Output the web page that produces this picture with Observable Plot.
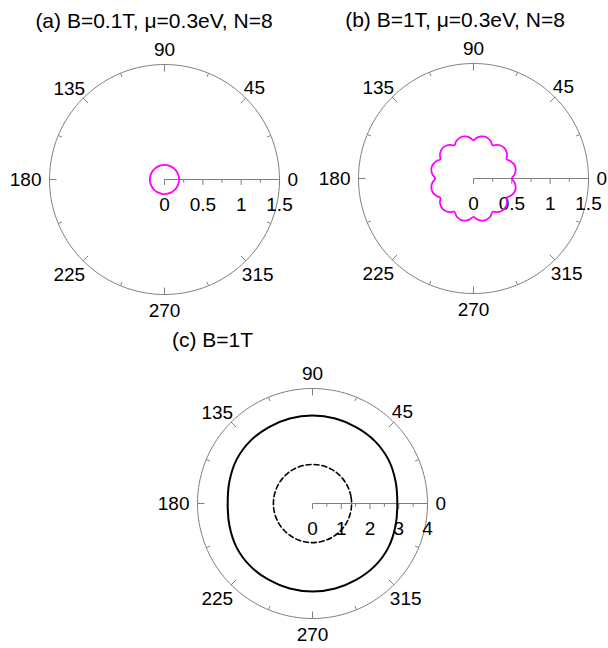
<!DOCTYPE html>
<html>
<head>
<meta charset="utf-8">
<script src="https://cdn.jsdelivr.net/npm/d3@7"></script>
<script src="https://cdn.jsdelivr.net/npm/@observablehq/plot@0.6"></script>
<style>
  html, body { margin: 0; padding: 0; background: #fff; overflow: hidden; }
  #root { position: relative; width: 608px; height: 648px; overflow: hidden; font-family: Arial, "Liberation Sans", sans-serif; }
  .title { position: absolute; width: 400px; font-size: 21px; line-height: 24px; color: #000; white-space: nowrap; }
  .panel { position: absolute; }
</style>
</head>
<body>
<div id="root"></div>
<script>
// ---------- data ----------
const titles = ["(a) B=0.1T, \u03bc=0.3eV, N=8", "(b) B=1T, \u03bc=0.3eV, N=8", "(c) B=1T"];

const angleLabels = [0, 45, 90, 135, 180, 225, 270, 315];
const angleTicks = [0, 22.5, 45, 67.5, 90, 112.5, 135, 157.5, 180, 202.5, 225, 247.5, 270, 292.5, 315, 337.5];

const radialTicksAB = [0, 0.25, 0.5, 0.75, 1, 1.25, 1.5];
const radialLabelsAB = [0, 0.5, 1, 1.5];
const radialTicksC = [0, 0.5, 1, 1.5, 2, 2.5, 3, 3.5, 4];
const radialLabelsC = [0, 1, 2, 3, 4];

// (a) angle (deg) and radius
const thetaA = [0, 10, 20, 30, 40, 50, 60, 70, 80, 90, 100, 110, 120, 130, 140, 150, 160, 170,
                180, 190, 200, 210, 220, 230, 240, 250, 260, 270, 280, 290, 300, 310, 320, 330, 340, 350];
const rA = [0.19, 0.19, 0.19, 0.19, 0.19, 0.19, 0.19, 0.19, 0.19, 0.19, 0.19, 0.19, 0.19, 0.19, 0.19, 0.19, 0.19, 0.19,
            0.19, 0.19, 0.19, 0.19, 0.19, 0.19, 0.19, 0.19, 0.19, 0.19, 0.19, 0.19, 0.19, 0.19, 0.19, 0.19, 0.19, 0.19];

// (b) angle every 5 deg
const thetaB = [0, 5, 10, 15, 20, 25, 30, 35, 40, 45, 50, 55, 60, 65, 70, 75, 80, 85,
                90, 95, 100, 105, 110, 115, 120, 125, 130, 135, 140, 145, 150, 155, 160, 165, 170, 175,
                180, 185, 190, 195, 200, 205, 210, 215, 220, 225, 230, 235, 240, 245, 250, 255, 260, 265,
                270, 275, 280, 285, 290, 295, 300, 305, 310, 315, 320, 325, 330, 335, 340, 345, 350, 355];
const rB = [0.50, 0.535, 0.557, 0.565, 0.557, 0.535, 0.50, 0.535, 0.557, 0.565, 0.557, 0.535,
            0.50, 0.535, 0.557, 0.565, 0.557, 0.535, 0.50, 0.535, 0.557, 0.565, 0.557, 0.535,
            0.50, 0.535, 0.557, 0.565, 0.557, 0.535, 0.50, 0.535, 0.557, 0.565, 0.557, 0.535,
            0.50, 0.535, 0.557, 0.565, 0.557, 0.535, 0.50, 0.535, 0.557, 0.565, 0.557, 0.535,
            0.50, 0.535, 0.557, 0.565, 0.557, 0.535, 0.50, 0.535, 0.557, 0.565, 0.557, 0.535,
            0.50, 0.535, 0.557, 0.565, 0.557, 0.535, 0.50, 0.535, 0.557, 0.565, 0.557, 0.535];

// (c) solid curve every 15 deg, dashed circle every 10 deg
const thetaC = [0, 15, 30, 45, 60, 75, 90, 105, 120, 135, 150, 165, 180, 195, 210, 225, 240, 255, 270, 285, 300, 315, 330, 345];
const rCsolid = [2.95, 2.99, 3.05, 3.07, 3.06, 3.06, 3.06, 3.06, 3.06, 3.07, 3.05, 2.99,
                 2.95, 2.99, 3.05, 3.07, 3.06, 3.06, 3.06, 3.06, 3.06, 3.07, 3.05, 2.99];
const thetaCd = thetaA;
const rCdashed = [1.36, 1.36, 1.36, 1.36, 1.36, 1.36, 1.36, 1.36, 1.36, 1.36, 1.36, 1.36, 1.36, 1.36, 1.36, 1.36, 1.36, 1.36,
                  1.36, 1.36, 1.36, 1.36, 1.36, 1.36, 1.36, 1.36, 1.36, 1.36, 1.36, 1.36, 1.36, 1.36, 1.36, 1.36, 1.36, 1.36];

// ---------- drawing ----------
const S = 320;         // svg size
const RPX = 115;       // outer circle radius in px
const GREY = "#7f7f7f";
const FONT = "Arial, 'Liberation Sans', sans-serif";
const FS = 19;
const rad = d => d * Math.PI / 180;

// label offsets (px): dx, dy (screen), anchor
const labelOffsets = {
  0: [8, 0, "start"], 45: [-2, -10, "start"], 90: [0, -15, "middle"], 135: [2, -9, "end"],
  180: [-8, 0, "end"], 225: [2, 14, "end"], 270: [0, 16, "middle"], 315: [-4, 14, "start"]
};

function makePanel({rmax, rTicks, rLabels, series}) {
  const u = rmax / RPX;             // data units per pixel
  const k = rmax * (S / 2) / RPX;
  const circle = d3.range(0, 360, 2).map(a => ({a, r: rmax}));
  const ticks = angleTicks.map(a => ({a, len: (a % 45 === 0 ? 7 : 4) * u}));
  const labs = angleLabels.map(a => {
    const [dx, dy, anchor] = labelOffsets[a];
    return {a, anchor, x: rmax * Math.cos(rad(a)) + dx * u, y: rmax * Math.sin(rad(a)) - dy * u};
  });
  const rt = rTicks.map(v => ({v, len: (rLabels.includes(v) ? 5.5 : 3.3) * u}));
  const marks = [
    Plot.line(circle, {x: d => d.r * Math.cos(rad(d.a)), y: d => d.r * Math.sin(rad(d.a)), curve: "linear-closed", stroke: GREY, strokeWidth: 1}),
    Plot.link(ticks, {x1: d => rmax * Math.cos(rad(d.a)), y1: d => rmax * Math.sin(rad(d.a)),
                      x2: d => (rmax - d.len) * Math.cos(rad(d.a)), y2: d => (rmax - d.len) * Math.sin(rad(d.a)), stroke: GREY, strokeWidth: 1}),
    Plot.link([rmax], {x1: 0, y1: 0, x2: d => d, y2: 0, stroke: GREY, strokeWidth: 1}),
    Plot.link(rt, {x1: "v", y1: 0, x2: "v", y2: d => -d.len, stroke: GREY, strokeWidth: 1}),
    Plot.text(rLabels, {x: d => d, y: 0, text: d => String(d), dy: 25, fontSize: FS, fill: "#000", textAnchor: "middle"}),
  ];
  for (const anchor of ["start", "middle", "end"]) {
    marks.push(Plot.text(labs.filter(d => d.anchor === anchor), {x: "x", y: "y", text: d => String(d.a), textAnchor: anchor, fontSize: FS, fill: "#000"}));
  }
  for (const s of series) {
    const data = s.theta.map((t, i) => ({t, r: s.r[i]}));
    marks.push(Plot.line(data, {x: d => d.r * Math.cos(rad(d.t)), y: d => d.r * Math.sin(rad(d.t)), curve: "catmull-rom-closed",
      stroke: s.color, strokeWidth: s.width, strokeDasharray: s.dash || null}));
  }
  return Plot.plot({
    width: S, height: S, margin: 0, inset: 0,
    x: {domain: [-k, k], axis: null},
    y: {domain: [-k, k], axis: null},
    style: {fontFamily: FONT, fontSize: FS + "px", overflow: "visible", background: "transparent", maxWidth: "none"},
    marks
  });
}

const root = document.getElementById("root");
function place(el, cx, cy) {
  el.classList.add("panel");
  el.style.left = (cx - S / 2) + "px";
  el.style.top = (cy - S / 2) + "px";
  root.appendChild(el);
}
function addTitle(text, left, top, align) {
  const d = document.createElement("div");
  d.className = "title";
  d.textContent = text;
  d.style.top = top + "px";
  if (align === "center") { d.style.left = (left - 200) + "px"; d.style.textAlign = "center"; }
  else { d.style.left = left + "px"; }
  root.appendChild(d);
}

place(makePanel({rmax: 1.5, rTicks: radialTicksAB, rLabels: radialLabelsAB,
  series: [{theta: thetaA, r: rA, color: "#ff00ff", width: 1.8}]}), 164, 179);
place(makePanel({rmax: 1.5, rTicks: radialTicksAB, rLabels: radialLabelsAB,
  series: [{theta: thetaB, r: rB, color: "#ff00ff", width: 1.8}]}), 473, 178);
place(makePanel({rmax: 4, rTicks: radialTicksC, rLabels: radialLabelsC,
  series: [{theta: thetaC, r: rCsolid, color: "#000", width: 2},
           {theta: thetaCd, r: rCdashed, color: "#000", width: 1.6, dash: "5,3"}]}), 312, 503);

addTitle(titles[0], 154, 8.5, "center");
addTitle(titles[1], 455, 8, "center");
addTitle(titles[2], 172, 328, "left");
</script>
</body>
</html>
